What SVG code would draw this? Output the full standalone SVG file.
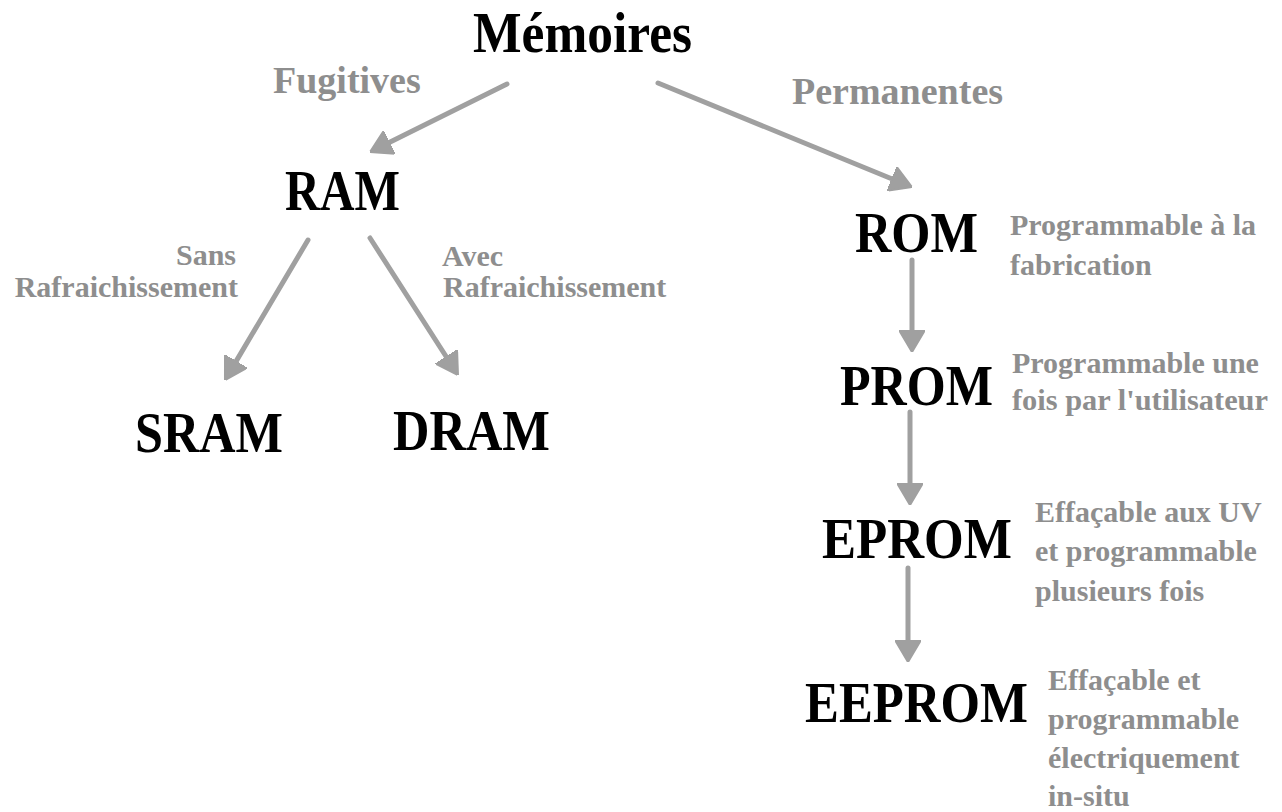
<svg xmlns="http://www.w3.org/2000/svg" width="1282" height="812" viewBox="0 0 1282 812">
<style>
.n{font-family:"Liberation Serif","Times New Roman",serif;font-weight:bold;font-size:58px;fill:#000}
.g{font-family:"Liberation Serif","Times New Roman",serif;font-weight:bold;font-size:30px;fill:#8e8e8e}
.b{font-size:38px}
.e{text-anchor:end}
.c{stroke:#a0a0a0;stroke-width:5;stroke-linecap:round;fill:none}
</style>
<defs>
<marker id="ah" viewBox="0 0 22 26" refX="0" refY="13" markerWidth="22" markerHeight="26" markerUnits="userSpaceOnUse" orient="auto">
<path d="M0,0 L22,13 L0,26 z" fill="#a0a0a0" stroke="#a0a0a0" stroke-width="2" stroke-linejoin="round"/>
</marker>
</defs>
<rect width="1282" height="812" fill="#fff"/>
<g id="connectors">
<line class="c" x1="507" y1="84" x2="389.7" y2="142.2" marker-end="url(#ah)"/>
<line class="c" x1="658" y1="83" x2="891.6" y2="178.7" marker-end="url(#ah)"/>
<line class="c" x1="308" y1="240" x2="236.2" y2="361.1" marker-end="url(#ah)"/>
<line class="c" x1="370" y1="238" x2="446.1" y2="356.5" marker-end="url(#ah)"/>
<line class="c" x1="912" y1="260" x2="912" y2="330" marker-end="url(#ah)"/>
<line class="c" x1="910" y1="412" x2="910" y2="483" marker-end="url(#ah)"/>
<line class="c" x1="908" y1="568" x2="908" y2="640" marker-end="url(#ah)"/>
</g>
<g id="labels">
<text class="g b" x="273" y="93">Fugitives</text>
<text class="g b" x="792" y="104">Permanentes</text>
<text class="g e" x="236" y="265">Sans</text>
<text class="g e" x="238" y="297">Rafraichissement</text>
<text class="g" x="442" y="266">Avec</text>
<text class="g" x="443" y="297">Rafraichissement</text>
</g>
<g id="memoires"><text class="n" x="473" y="52" textLength="219" lengthAdjust="spacingAndGlyphs">Mémoires</text></g>
<g id="ram"><text class="n" x="285" y="210" textLength="115" lengthAdjust="spacingAndGlyphs">RAM</text></g>
<g id="sram"><text class="n" x="135" y="452" textLength="148" lengthAdjust="spacingAndGlyphs">SRAM</text></g>
<g id="dram"><text class="n" x="393" y="450" textLength="157" lengthAdjust="spacingAndGlyphs">DRAM</text></g>
<g id="rom">
<text class="n" x="855" y="252" textLength="123" lengthAdjust="spacingAndGlyphs">ROM</text>
<text class="g" x="1010" y="235">Programmable à la</text>
<text class="g" x="1010" y="275">fabrication</text>
</g>
<g id="prom">
<text class="n" x="840" y="405" textLength="153" lengthAdjust="spacingAndGlyphs">PROM</text>
<text class="g" x="1012" y="373">Programmable une</text>
<text class="g" x="1012" y="410" textLength="256" lengthAdjust="spacingAndGlyphs">fois par l'utilisateur</text>
</g>
<g id="eprom">
<text class="n" x="822" y="558" textLength="190" lengthAdjust="spacingAndGlyphs">EPROM</text>
<text class="g" x="1035" y="522">Effaçable aux UV</text>
<text class="g" x="1035" y="561">et programmable</text>
<text class="g" x="1035" y="601">plusieurs fois</text>
</g>
<g id="eeprom">
<text class="n" x="805" y="722" textLength="223" lengthAdjust="spacingAndGlyphs">EEPROM</text>
<text class="g" x="1048" y="690">Effaçable et</text>
<text class="g" x="1048" y="729">programmable</text>
<text class="g" x="1048" y="768">électriquement</text>
<text class="g" x="1048" y="806">in-situ</text>
</g>
</svg>
